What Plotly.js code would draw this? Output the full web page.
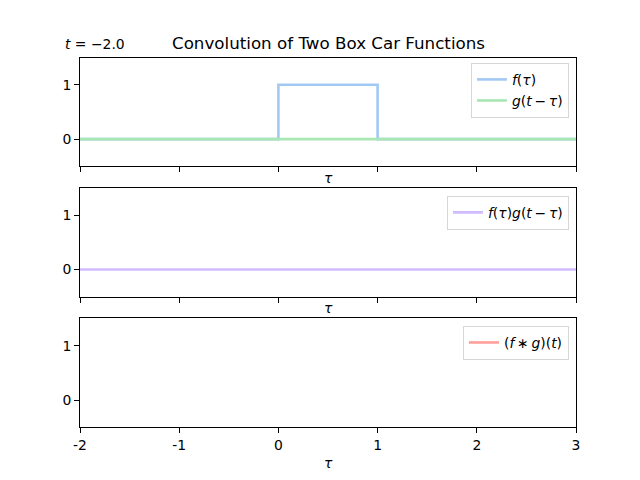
<!DOCTYPE html>
<html>
<head>
<meta charset="utf-8">
<script src="https://cdn.plot.ly/plotly-3.0.1.min.js"></script>
<style>html,body{margin:0;padding:0;background:#fff}#chart{width:640px;height:480px}</style>
</head>
<body>
<div id="chart"></div>
<script>
// Data
const tValue = -2.0;
const tauF = [-2, 0, 0, 1, 1, 3];
const fVals = [0, 0, 1, 1, 0, 0];
const tauG = [-2, 3];
const gVals = [0, 0];
const tauProd = [-2, 3];
const prodVals = [0, 0];
const tConv = [-2];
const convVals = [0];
const xTickVals = [-2, -1, 0, 1, 2, 3];
const xTickText = ['-2', '-1', '0', '1', '2', '3'];
const yTickVals = [0, 1];
const yTickText = ['0', '1'];

const FONT = 'DejaVu Sans, sans-serif';
const lw = 2.6;
const ts = '\u2009';

const traces = [
  {x: tauF, y: fVals, mode: 'lines', name: '<i>f</i>(<i>τ</i>)', line: {color: '#a1c9f4', width: lw},
   xaxis: 'x', yaxis: 'y', legend: 'legend'},
  {x: tauG, y: gVals, mode: 'lines', name: '<i>g</i>(<i>t</i>' + ts + '−' + ts + '<i>τ</i>)', line: {color: '#a8e6b4', width: lw},
   xaxis: 'x', yaxis: 'y', legend: 'legend'},
  {x: tauProd, y: prodVals, mode: 'lines', name: '<i>f</i>(<i>τ</i>)<i>g</i>(<i>t</i>' + ts + '−' + ts + '<i>τ</i>)', line: {color: '#d0bbff', width: lw},
   xaxis: 'x2', yaxis: 'y2', legend: 'legend2'},
  {x: tConv, y: convVals, mode: 'lines', name: '(<i>f</i>' + ts + '∗' + ts + '<i>g</i>)(<i>t</i>)', line: {color: '#ff9f9b', width: lw},
   xaxis: 'x3', yaxis: 'y3', legend: 'legend3'}
];

function xax(dom, labels) {
  return {domain: [0.125, 0.9], range: [-2, 3], anchor: dom, tickmode: 'array', tickvals: xTickVals, ticktext: xTickText,
    showticklabels: labels, ticks: 'outside', ticklen: 5, tickwidth: 1, tickcolor: '#000',
    showline: true, linecolor: '#000', linewidth: 1, mirror: true, showgrid: false, zeroline: false,
    tickfont: {family: FONT, size: 13.9, color: '#000'}};
}
function yax(dom, anchor) {
  return {domain: dom, range: [-0.5, 1.5], anchor: anchor, tickmode: 'array', tickvals: yTickVals, ticktext: yTickText,
    ticks: 'outside', ticklen: 5, tickwidth: 1, tickcolor: '#000',
    showline: true, linecolor: '#000', linewidth: 1, mirror: true, showgrid: false, zeroline: false,
    tickfont: {family: FONT, size: 13.9, color: '#000'}};
}
function leg(y) {
  return {x: 0.889, y: y, xanchor: 'right', yanchor: 'top', bgcolor: 'rgba(255,255,255,0.8)',
    bordercolor: '#d6d6d6', borderwidth: 1, font: {family: FONT, size: 13.9, color: '#000'},
    tracegroupgap: 0, itemwidth: 30};
}

const layout = {
  width: 640, height: 480,
  margin: {l: 0, r: 0, t: 0, b: 0},
  paper_bgcolor: '#fff', plot_bgcolor: '#fff',
  font: {family: FONT, color: '#000'},
  xaxis: xax('y', false),
  yaxis: yax([0.6535, 0.88], 'x'),
  xaxis2: xax('y2', false),
  yaxis2: yax([0.382, 0.6082], 'x2'),
  xaxis3: xax('y3', true),
  yaxis3: yax([0.11, 0.3365], 'x3'),
  legend: leg(0.869),
  legend2: leg(0.592),
  legend3: leg(0.321),
  annotations: [
    {text: 'Convolution of Two Box Car Functions', x: 0.5125, y: 0.885, xref: 'paper', yref: 'paper',
     xanchor: 'center', yanchor: 'bottom', showarrow: false, font: {family: FONT, size: 16.7, color: '#000'}},
    {text: '<i>t</i> = −' + Math.abs(tValue).toFixed(1), x: 0.098, y: 0.887, xref: 'paper', yref: 'paper',
     xanchor: 'left', yanchor: 'bottom', showarrow: false, font: {family: FONT, size: 13.9, color: '#000'}},
    {text: '<i>τ</i>', x: 0.5125, y: 0.629, xref: 'paper', yref: 'paper', xanchor: 'center', yanchor: 'middle',
     showarrow: false, font: {family: FONT, size: 13.9, color: '#000'}},
    {text: '<i>τ</i>', x: 0.5125, y: 0.358, xref: 'paper', yref: 'paper', xanchor: 'center', yanchor: 'middle',
     showarrow: false, font: {family: FONT, size: 13.9, color: '#000'}},
    {text: '<i>τ</i>', x: 0.5125, y: 0.0354, xref: 'paper', yref: 'paper', xanchor: 'center', yanchor: 'middle',
     showarrow: false, font: {family: FONT, size: 13.9, color: '#000'}}
  ]
};

Plotly.newPlot('chart', traces, layout, {displayModeBar: false, staticPlot: true});
</script>
</body>
</html>
